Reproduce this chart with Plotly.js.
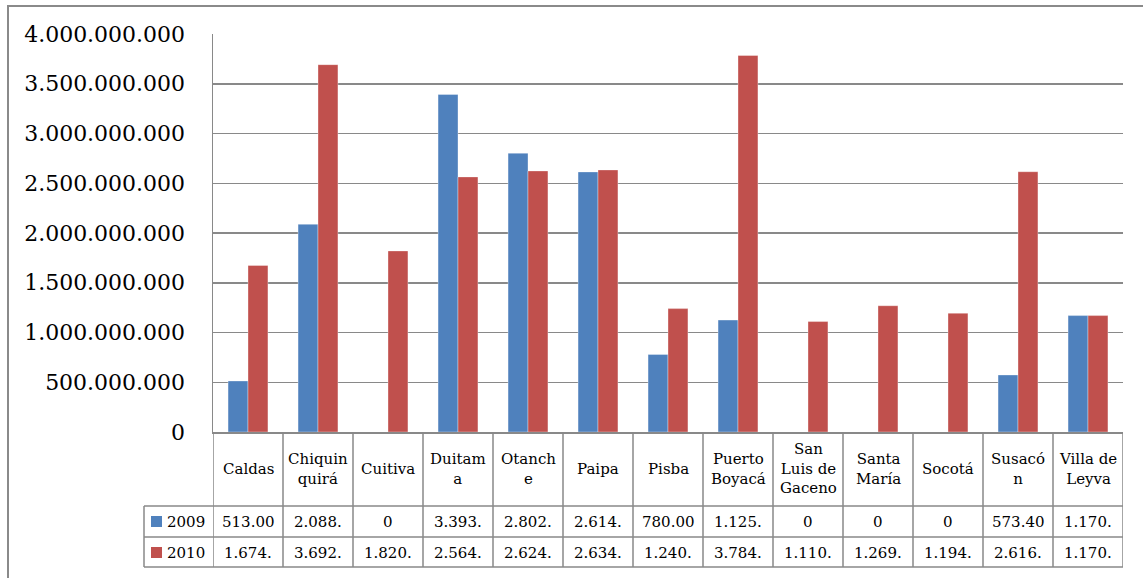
<!DOCTYPE html>
<html>
<head>
<meta charset="utf-8">
<script src="https://cdn.plot.ly/plotly-3.0.1.min.js"></script>
<style>
  html, body { margin: 0; padding: 0; background: #fff; }
  #wrap { position: relative; width: 1143px; height: 578px; overflow: hidden; }
  #chart { position: absolute; left: 0; top: 0; width: 1143px; height: 578px; }
  #frame { position: absolute; left: 7px; top: 5px; width: 1140px; height: 580px;
           border-left: 2px solid #8a8a8a; border-top: 2px solid #8a8a8a; pointer-events: none; }
</style>
</head>
<body>
<div id="wrap"><div id="chart"></div><div id="frame"></div></div>
<script>
// ---- data ----
const categories = ['Caldas', 'Chiquinquirá', 'Cuitiva', 'Duitama', 'Otanche', 'Paipa', 'Pisba',
  'Puerto Boyacá', 'San Luis de Gaceno', 'Santa María', 'Socotá', 'Susacón', 'Villa de Leyva'];
const headerLabels = ['Caldas', 'Chiquin<br>quirá', 'Cuitiva', 'Duitam<br>a', 'Otanch<br>e', 'Paipa', 'Pisba',
  'Puerto<br>Boyacá', 'San<br>Luis de<br>Gaceno', 'Santa<br>María', 'Socotá', 'Susacó<br>n', 'Villa de<br>Leyva'];
const seriesNames = ['2009', '2010'];
const values2009 = [513000000, 2088000000, 0, 3393000000, 2802000000, 2614000000, 780000000,
  1125000000, 0, 0, 0, 573400000, 1170000000];
const values2010 = [1674000000, 3692000000, 1820000000, 2564000000, 2624000000, 2634000000, 1240000000,
  3784000000, 1110000000, 1269000000, 1194000000, 2616000000, 1170000000];
const yTicks = [0, 500000000, 1000000000, 1500000000, 2000000000, 2500000000, 3000000000, 3500000000, 4000000000];

// ---- style ----
const BLUE = '#4F81BD', RED = '#C0504D', GRID = '#898989';
const FONT = '"DejaVu Serif", "Liberation Serif", serif';
const PL = {l: 213, t: 34, w: 910, h: 398};
const px = p => (p - PL.l) / PL.w;
const py = p => (PL.t + PL.h - p) / PL.h;

function fmtCell(v) {
  if (v === 0) return '0';
  const s = Math.round(v).toString().replace(/\B(?=(\d{3})+(?!\d))/g, '.');
  return s.slice(0, 6);
}

const traces = [
  {type: 'bar', name: seriesNames[0], x: categories, y: values2009,
   marker: {color: BLUE, line: {color: 'rgba(255,255,255,0.35)', width: 1}}},
  {type: 'bar', name: seriesNames[1], x: categories, y: values2010,
   marker: {color: RED, line: {color: 'rgba(255,255,255,0.35)', width: 1}}}
];

const shapes = [];
const annotations = [];
const lineStyle = {color: GRID, width: 1.5};

// table horizontal lines
[506, 537, 567].forEach(yy => {
  shapes.push({type: 'line', xref: 'paper', yref: 'paper', x0: px(144), x1: 1,
    y0: py(yy), y1: py(yy), line: lineStyle});
});
// category boundary lines through header and rows
for (let i = 0; i <= categories.length; i++) {
  shapes.push({type: 'line', xref: 'x', yref: 'paper', x0: i - 0.5, x1: i - 0.5,
    y0: 0, y1: py(567), line: lineStyle});
}
// legend column left border
shapes.push({type: 'line', xref: 'paper', yref: 'paper', x0: px(144), x1: px(144),
  y0: py(506), y1: py(567), line: lineStyle});
// legend keys
[[BLUE, 521.5], [RED, 552.5]].forEach(([c, yc], k) => {
  shapes.push({type: 'rect', xref: 'paper', yref: 'paper', x0: px(151), x1: px(162),
    y0: py(yc + 5.5), y1: py(yc - 5.5), fillcolor: c, line: {width: 0}});
  annotations.push({xref: 'paper', yref: 'paper', x: px(165), y: py(yc), xanchor: 'left', yanchor: 'middle',
    text: seriesNames[k], showarrow: false, font: {family: FONT, size: 15, color: '#000'}});
});

// header labels + cells
categories.forEach((c, i) => {
  annotations.push({xref: 'x', yref: 'paper', x: i, y: py(469), xanchor: 'center', yanchor: 'middle',
    text: headerLabels[i], showarrow: false, font: {family: FONT, size: 15, color: '#000'}});
  annotations.push({xref: 'x', yref: 'paper', x: i, y: py(521.5), xanchor: 'center', yanchor: 'middle',
    text: fmtCell(values2009[i]), showarrow: false, font: {family: FONT, size: 15, color: '#000'}});
  annotations.push({xref: 'x', yref: 'paper', x: i, y: py(552.5), xanchor: 'center', yanchor: 'middle',
    text: fmtCell(values2010[i]), showarrow: false, font: {family: FONT, size: 15, color: '#000'}});
});

const layout = {
  width: 1143, height: 578,
  margin: {l: PL.l, r: 1143 - PL.l - PL.w, t: PL.t, b: 578 - PL.t - PL.h, pad: 0},
  paper_bgcolor: 'rgba(0,0,0,0)', plot_bgcolor: '#fff',
  separators: ',.',
  barmode: 'group', bargap: 0.43, bargroupgap: 0,
  showlegend: false,
  xaxis: {type: 'category', range: [-0.5, categories.length - 0.5], showticklabels: false,
    showline: true, linecolor: GRID, linewidth: 1.5, showgrid: false, zeroline: false, ticks: ''},
  yaxis: {range: [0, 4000000000], tickvals: yTicks, tickformat: ',d', showline: true, linecolor: GRID,
    linewidth: 1.5, showgrid: true, gridcolor: GRID, gridwidth: 1.5, zeroline: false, ticks: '',
    ticklabelstandoff: 22, tickfont: {family: FONT, size: 22, color: '#000'}},
  shapes: shapes,
  annotations: annotations
};

Plotly.newPlot('chart', traces, layout, {displayModeBar: false, staticPlot: true});
</script>
</body>
</html>
